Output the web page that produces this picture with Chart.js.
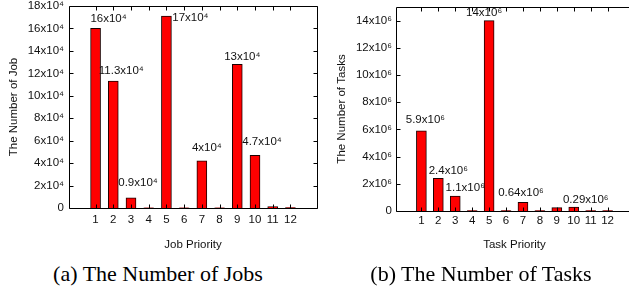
<!DOCTYPE html>
<html>
<head>
<meta charset="utf-8">
<script src="https://cdn.jsdelivr.net/npm/chart.js@4.4.0/dist/chart.umd.min.js"></script>
<style>
body { margin: 0; background: #fff; }
#wrap { position: relative; width: 629px; height: 291px; overflow: hidden; }
#jobsBox { position: absolute; left: 0; top: 0; width: 325px; height: 260px; }
#tasksBox { position: absolute; left: 320px; top: 0; width: 330px; height: 260px; }
.cap { position: absolute; top: 261px; font-family: "Liberation Serif", "DejaVu Serif", serif; font-size: 22px; color: #000; white-space: nowrap; transform: translateX(-50%); }
</style>
</head>
<body>
<div id="wrap">
	<div id="jobsBox"><canvas id="jobs"></canvas></div>
	<div id="tasksBox"><canvas id="tasks"></canvas></div>
	<div class="cap" style="left:158px">(a) The Number of Jobs</div>
	<div class="cap" style="left:481px">(b) The Number of Tasks</div>
</div>
<script>
var priorities = [1, 2, 3, 4, 5, 6, 7, 8, 9, 10, 11, 12]
var jobs = [160000, 113000, 9000, 200, 171000, 200, 42000, 200, 128000, 47000, 1300, 300]
var tasks = [5900000, 2400000, 1100000, 30000, 14000000, 30000, 640000, 30000, 250000, 290000, 30000, 30000]

var jobTicks = ['0', '2x10⁴', '4x10⁴', '6x10⁴', '8x10⁴', '10x10⁴', '12x10⁴', '14x10⁴', '16x10⁴', '18x10⁴']
var taskTicks = ['0', '2x10⁶', '4x10⁶', '6x10⁶', '8x10⁶', '10x10⁶', '12x10⁶', '14x10⁶']

var jobNotes = ['16x10⁴', '11.3x10⁴', '0.9x10⁴', '', '17x10⁴', '', '4x10⁴', '', '13x10⁴', '4.7x10⁴', '', '']
var taskNotes = ['5.9x10⁶', '2.4x10⁶', '1.1x10⁶', '', '14x10⁶', '', '0.64x10⁶', '', '', '0.29x10⁶', '', '']

var sans = '"Liberation Sans", Arial, sans-serif'
Chart.defaults.font.family = sans
Chart.defaults.font.size = 11.5
Chart.defaults.color = '#111'

// box round the plot with ticks pointing inwards, like gnuplot
var frame = {
	id: 'frame',
	afterDraw: function(chart)
	{
		var ctx = chart.ctx
		var a = chart.chartArea
		var l = Math.round(a.left) + 0.5, r = Math.round(a.right) + 0.5
		var t = Math.round(a.top) + 0.5, b = Math.round(a.bottom) + 0.5
		ctx.save()
		ctx.strokeStyle = '#000'
		ctx.lineWidth = 1
		ctx.beginPath()
		ctx.rect(l, t, r - l, b - t)
		chart.scales.y.ticks.forEach(function(tk)
		{
			var y = Math.round(chart.scales.y.getPixelForValue(tk.value)) + 0.5
			ctx.moveTo(l, y); ctx.lineTo(l + 4, y)
			ctx.moveTo(r, y); ctx.lineTo(r - 4, y)
		})
		priorities.forEach(function(p)
		{
			var x = Math.round(chart.scales.x.getPixelForValue(p)) + 0.5
			ctx.moveTo(x, t); ctx.lineTo(x, t + 4)
			ctx.moveTo(x, b); ctx.lineTo(x, b - 4)
		})
		ctx.stroke()
		ctx.restore()
	}
}

// value notes next to the bars
var notes = {
	id: 'notes',
	afterDatasetsDraw: function(chart, args, opts)
	{
		var ctx = chart.ctx
		var meta = chart.getDatasetMeta(0)
		ctx.save()
		ctx.font = '11.5px ' + sans
		ctx.fillStyle = '#111'
		ctx.textAlign = 'center'
		ctx.textBaseline = 'middle'
		meta.data.forEach(function(bar, i)
		{
			if(!opts.text[i]) return
			var off = opts.shift[i] || [0, -10]
			ctx.fillText(opts.text[i], bar.x + off[0], bar.y + off[1])
		})
		ctx.restore()
	}
}

function makeChart(id, values, ticks, noteText, noteShift, yMax, yStep, box)
{
	return new Chart(document.getElementById(id), {
		type: 'bar',
		data: {
			datasets: [{
				data: priorities.map(function(p, i){ return {x: p, y: values[i]} }),
				backgroundColor: '#ff0000',
				borderColor: '#1a0000',
				borderWidth: 1,
				borderSkipped: 'bottom',
				barThickness: 10
			}]
		},
		options: {
			responsive: true,
			maintainAspectRatio: false,
			animation: false,
			layout: { padding: { left: 0, right: box.right, top: box.top, bottom: 0 } },
			plugins: {
				legend: { display: false },
				tooltip: { enabled: false },
				notes: { text: noteText, shift: noteShift }
			},
			scales: {
				x: {
					type: 'linear',
					min: 0,
					max: 13,
					grid: { display: false, drawTicks: false },
					border: { display: false },
					ticks: {
						stepSize: 1,
						padding: box.xPad,
						maxRotation: 0,
						callback: function(v){ return (v >= 1 && v <= 12) ? String(v) : '' }
					},
					title: { display: true, text: box.xTitle, padding: { top: 0, bottom: box.xTitlePad } },
					afterFit: function(s){ s.height = box.xHeight; s.paddingLeft = 0; s.paddingRight = 0 }
				},
				y: {
					min: 0,
					max: yMax,
					bounds: 'data',
					grid: { display: false, drawTicks: false },
					border: { display: false },
					ticks: {
						padding: box.yPad,
						callback: function(v, i){ return ticks[i] }
					},
					title: { display: true, text: box.yTitle, padding: { top: box.yTitlePad, bottom: 0 } },
					// one tick per label, yStep apart
					afterBuildTicks: function(s)
					{
						s.ticks = ticks.map(function(t, i){ return { value: i * yStep } })
					},
					afterFit: function(s){ s.width = box.yWidth; s.paddingTop = 0; s.paddingBottom = 0 }
				}
			}
		},
		plugins: [frame, notes]
	})
}

makeChart('jobs', jobs, jobTicks, jobNotes,
	[[13, -10], [8, -10], [7, -15], null, [24, 2], null, [5, -13], null, [5, -8], [7, -13], null, null],
	180000, 20000,
	{ right: 8, top: 6, xHeight: 52, yWidth: 69, xPad: 5, yPad: 5, xTitle: 'Job Priority', yTitle: 'The Number of Job', xTitlePad: 8, yTitlePad: 7 })

makeChart('tasks', tasks, taskTicks, taskNotes,
	[[4, -11], [10, -8], [10, -8], null, [-5, -8], null, [-2, -9], null, null, [12, -7], null, null],
	15000000, 2000000,
	{ right: 17, top: 7, xHeight: 49, yWidth: 76, xPad: 3, yPad: 4, xTitle: 'Task Priority', yTitle: 'The Number of Tasks', xTitlePad: 8, yTitlePad: 15 })
</script>
</body>
</html>
